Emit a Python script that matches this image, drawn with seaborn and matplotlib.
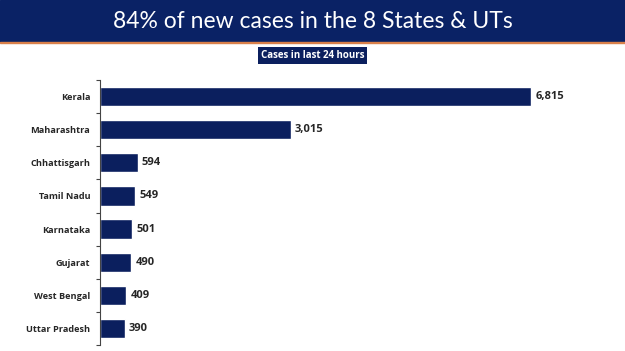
import matplotlib.pyplot as plt
import seaborn as sns
import pandas as pd
from matplotlib.ticker import FixedLocator

# Data
states = ["Kerala", "Maharashtra", "Chhattisgarh", "Tamil Nadu",
          "Karnataka", "Gujarat", "West Bengal", "Uttar Pradesh"]
cases = [6815, 3015, 594, 549, 501, 490, 409, 390]

df = pd.DataFrame({"state": states, "cases": cases})

navy = "#0b1f5e"
header = "#0a2265"
bold_font = ['Open Sans', 'DejaVu Sans']

sns.set_style("white")
plt.rcParams['font.family'] = ['Lato', 'DejaVu Sans']

fig = plt.figure(figsize=(6.25, 3.51), dpi=100)

# header band + thin orange rule
fig.patches.append(plt.Rectangle((0, 1 - 42 / 351), 1, 42 / 351, transform=fig.transFigure,
                                 color=header, zorder=0))
fig.patches.append(plt.Rectangle((0, 1 - 43.2 / 351), 1, 1.2 / 351, transform=fig.transFigure,
                                 color="#d9804a", zorder=0))
fig.text(0.5, 1 - 21 / 351, "84% of new cases in the 8 States & UTs", color="white",
         fontsize=16.5, ha="center", va="center")

# subtitle box
fig.text(0.5, 1 - 55.5 / 351, "Cases in last 24 hours", color="white", fontsize=7,
         fontweight="bold", ha="center", va="center", family=bold_font,
         bbox=dict(boxstyle="square,pad=0.3", fc=navy, ec="none"))

ax = fig.add_axes([100 / 625, 6 / 351, 474 / 625, 265 / 351])
sns.barplot(data=df, x="cases", y="state", color=navy, width=0.58, saturation=1, ax=ax)
ax.set_xlim(0, 7500)
ax.set_ylim(len(states) - 0.5, -0.5)
ax.set_xlabel("")
ax.set_ylabel("")
ax.set_xticks([])

for s in ["top", "right", "bottom"]:
    ax.spines[s].set_visible(False)
ax.spines["left"].set_color("#444444")
ax.spines["left"].set_linewidth(0.8)

ax.tick_params(axis="y", which="major", length=0, pad=7)
ax.yaxis.set_minor_locator(FixedLocator([i + 0.5 for i in range(-1, len(states))]))
ax.tick_params(axis="y", which="minor", left=True, length=3, width=0.8,
               color="#444444", direction="out")
for lbl in ax.get_yticklabels():
    lbl.set_fontsize(6.6)
    lbl.set_fontweight("bold")
    lbl.set_family(bold_font)

for i, v in enumerate(cases):
    ax.text(v + 70, i, f"{v:,}", va="center", ha="left", fontsize=8,
            fontweight="bold", family=bold_font)

fig.savefig("out.png", dpi=100)
